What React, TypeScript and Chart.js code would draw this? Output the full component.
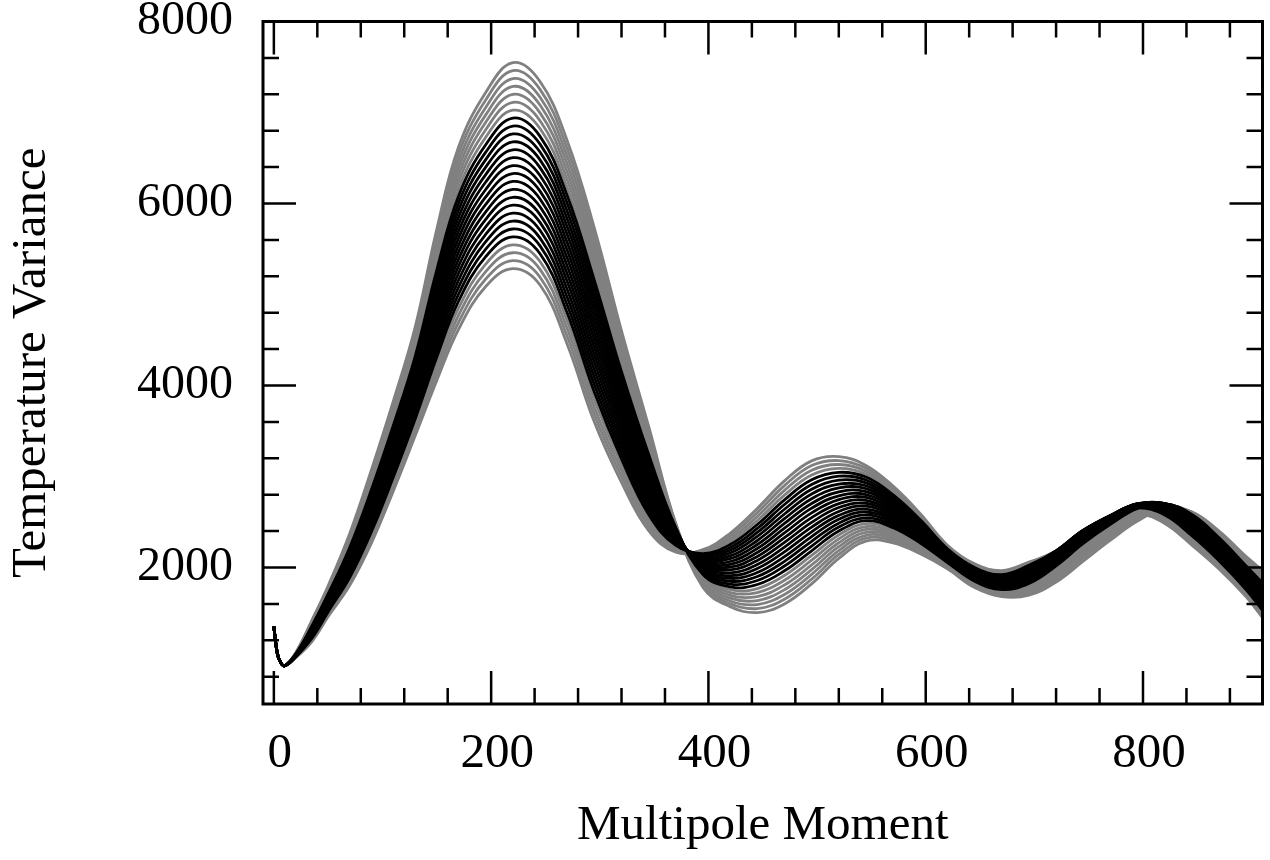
import { useEffect, useRef } from "react";
import { Chart, registerables } from "chart.js";

Chart.register(...registerables);

// ---- data ----
const multipoles = [0, 3, 6, 10, 20, 35, 50, 70, 90, 110, 130, 150, 170, 195, 220, 245, 270, 295, 320, 345, 370, 395, 420, 445, 470, 495, 520, 545, 570, 595, 620, 645, 670, 695, 720, 745, 770, 795, 820, 845, 870, 895, 910];

const curve00 = [1350, 1065, 960, 920, 1060, 1420, 1800, 2380, 3080, 3830, 4640, 5720, 6620, 7220, 7547, 7340, 6690, 5730, 4600, 3550, 2480, 1780, 1570, 1505, 1600, 1820, 2100, 2290, 2270, 2150, 1985, 1780, 1680, 1695, 1840, 2070, 2300, 2510, 2640, 2610, 2400, 2120, 1970];
const curve01 = [1350, 1065, 960, 920, 1058, 1411, 1787, 2358, 3049, 3792, 4594, 5656, 6543, 7138, 7460, 7254, 6604, 5648, 4536, 3506, 2475, 1802, 1601, 1549, 1652, 1872, 2143, 2322, 2294, 2167, 1995, 1790, 1691, 1715, 1869, 2103, 2330, 2535, 2653, 2609, 2391, 2106, 1950];
const curve02 = [1350, 1065, 960, 920, 1056, 1402, 1774, 2336, 3018, 3754, 4548, 5592, 6466, 7056, 7373, 7168, 6518, 5566, 4472, 3462, 2470, 1823, 1632, 1593, 1704, 1924, 2186, 2354, 2318, 2184, 2005, 1800, 1702, 1734, 1897, 2134, 2359, 2559, 2665, 2608, 2382, 2092, 1930];
const curve03 = [1350, 1065, 960, 920, 1054, 1393, 1761, 2314, 2987, 3716, 4502, 5528, 6389, 6974, 7286, 7082, 6432, 5484, 4408, 3418, 2464, 1844, 1663, 1637, 1756, 1976, 2229, 2386, 2342, 2201, 2015, 1810, 1713, 1753, 1924, 2163, 2385, 2580, 2675, 2605, 2372, 2077, 1910];
const curve04 = [1350, 1065, 960, 920, 1052, 1384, 1748, 2292, 2956, 3678, 4456, 5464, 6312, 6892, 7199, 6996, 6346, 5402, 4344, 3374, 2458, 1865, 1694, 1681, 1808, 2028, 2272, 2418, 2366, 2218, 2025, 1820, 1724, 1772, 1949, 2191, 2410, 2600, 2684, 2601, 2362, 2062, 1890];
const curve05 = [1350, 1065, 960, 920, 1050, 1375, 1735, 2270, 2925, 3640, 4410, 5400, 6235, 6810, 7112, 6910, 6260, 5320, 4280, 3330, 2451, 1885, 1725, 1725, 1860, 2080, 2315, 2450, 2390, 2235, 2035, 1830, 1735, 1790, 1973, 2217, 2433, 2618, 2691, 2596, 2351, 2047, 1870];
const curve06 = [1350, 1065, 960, 920, 1048, 1366, 1722, 2248, 2894, 3602, 4364, 5336, 6158, 6728, 7025, 6824, 6174, 5238, 4216, 3286, 2444, 1904, 1756, 1769, 1912, 2132, 2358, 2482, 2414, 2252, 2045, 1840, 1746, 1807, 1996, 2241, 2455, 2635, 2696, 2590, 2340, 2032, 1850];
const curve07 = [1350, 1065, 960, 920, 1046, 1357, 1709, 2226, 2863, 3564, 4318, 5272, 6081, 6646, 6938, 6738, 6088, 5156, 4152, 3242, 2435, 1923, 1787, 1813, 1964, 2184, 2401, 2514, 2438, 2269, 2055, 1850, 1757, 1824, 2018, 2264, 2474, 2649, 2700, 2583, 2327, 2017, 1830];
const curve08 = [1350, 1065, 960, 920, 1044, 1348, 1696, 2204, 2832, 3526, 4272, 5208, 6004, 6564, 6851, 6652, 6002, 5074, 4088, 3198, 2427, 1942, 1818, 1857, 2016, 2236, 2444, 2546, 2462, 2286, 2065, 1860, 1768, 1841, 2038, 2285, 2492, 2662, 2703, 2575, 2315, 2001, 1810];
const curve09 = [1350, 1065, 960, 920, 1042, 1339, 1683, 2182, 2801, 3488, 4226, 5144, 5927, 6482, 6764, 6566, 5916, 4992, 4024, 3154, 2417, 1960, 1849, 1901, 2068, 2288, 2487, 2578, 2486, 2303, 2075, 1870, 1779, 1857, 2057, 2305, 2508, 2673, 2704, 2565, 2301, 1985, 1790];
const curve10 = [1350, 1065, 960, 920, 1040, 1330, 1670, 2160, 2770, 3450, 4180, 5080, 5850, 6400, 6677, 6480, 5830, 4910, 3960, 3110, 2407, 1978, 1880, 1945, 2120, 2340, 2530, 2610, 2510, 2320, 2085, 1880, 1790, 1873, 2074, 2323, 2522, 2682, 2703, 2555, 2287, 1969, 1770];
const curve11 = [1350, 1065, 960, 920, 1038, 1321, 1657, 2138, 2739, 3412, 4134, 5016, 5773, 6318, 6590, 6394, 5744, 4828, 3896, 3066, 2397, 1995, 1911, 1989, 2172, 2392, 2573, 2642, 2534, 2337, 2095, 1890, 1801, 1888, 2090, 2339, 2534, 2689, 2701, 2544, 2273, 1953, 1750];
const curve12 = [1350, 1065, 960, 920, 1036, 1312, 1644, 2116, 2708, 3374, 4088, 4952, 5696, 6236, 6503, 6308, 5658, 4746, 3832, 3022, 2386, 2012, 1942, 2033, 2224, 2444, 2616, 2674, 2558, 2354, 2105, 1900, 1812, 1903, 2105, 2353, 2545, 2695, 2697, 2531, 2258, 1936, 1730];
const curve13 = [1350, 1065, 960, 920, 1034, 1303, 1631, 2094, 2677, 3336, 4042, 4888, 5619, 6154, 6416, 6222, 5572, 4664, 3768, 2978, 2374, 2028, 1973, 2077, 2276, 2496, 2659, 2706, 2582, 2371, 2115, 1910, 1823, 1917, 2119, 2366, 2554, 2699, 2692, 2518, 2242, 1919, 1710];
const curve14 = [1350, 1065, 960, 920, 1032, 1294, 1618, 2072, 2646, 3298, 3996, 4824, 5542, 6072, 6329, 6136, 5486, 4582, 3704, 2934, 2362, 2044, 2004, 2121, 2328, 2548, 2702, 2738, 2606, 2388, 2125, 1920, 1834, 1931, 2131, 2377, 2561, 2701, 2685, 2503, 2226, 1902, 1690];
const curve15 = [1350, 1065, 960, 920, 1030, 1285, 1605, 2050, 2615, 3260, 3950, 4760, 5465, 5990, 6242, 6050, 5400, 4500, 3640, 2890, 2349, 2059, 2035, 2165, 2380, 2600, 2745, 2770, 2630, 2405, 2135, 1930, 1845, 1944, 2142, 2387, 2566, 2701, 2677, 2488, 2209, 1885, 1670];
const curve16 = [1350, 1065, 960, 920, 1028, 1276, 1592, 2028, 2584, 3222, 3904, 4696, 5388, 5908, 6155, 5964, 5314, 4418, 3576, 2846, 2335, 2074, 2066, 2209, 2432, 2652, 2788, 2802, 2654, 2422, 2145, 1940, 1856, 1957, 2152, 2395, 2570, 2700, 2667, 2471, 2191, 1867, 1650];
const curve17 = [1350, 1065, 960, 920, 1026, 1267, 1579, 2006, 2553, 3184, 3858, 4632, 5311, 5826, 6068, 5878, 5228, 4336, 3512, 2802, 2321, 2088, 2097, 2253, 2484, 2704, 2831, 2834, 2678, 2439, 2155, 1950, 1867, 1969, 2161, 2401, 2572, 2697, 2656, 2453, 2173, 1849, 1630];
const curve18 = [1350, 1065, 960, 920, 1024, 1258, 1566, 1984, 2522, 3146, 3812, 4568, 5234, 5744, 5981, 5792, 5142, 4254, 3448, 2758, 2307, 2102, 2128, 2297, 2536, 2756, 2874, 2866, 2702, 2456, 2165, 1960, 1878, 1981, 2168, 2405, 2572, 2692, 2643, 2435, 2155, 1831, 1610];
const curve19 = [1350, 1065, 960, 920, 1022, 1249, 1553, 1962, 2491, 3108, 3766, 4504, 5157, 5662, 5894, 5706, 5056, 4172, 3384, 2714, 2291, 2115, 2159, 2341, 2588, 2808, 2917, 2898, 2726, 2473, 2175, 1970, 1889, 1992, 2174, 2408, 2570, 2685, 2628, 2415, 2135, 1813, 1590];
const curve20 = [1350, 1065, 960, 920, 1020, 1240, 1540, 1940, 2460, 3070, 3720, 4440, 5080, 5580, 5807, 5620, 4970, 4090, 3320, 2670, 2276, 2128, 2190, 2385, 2640, 2860, 2960, 2930, 2750, 2490, 2185, 1980, 1900, 2003, 2178, 2409, 2567, 2677, 2612, 2394, 2116, 1794, 1570];
const curve21 = [1350, 1065, 960, 920, 1018, 1231, 1527, 1918, 2429, 3032, 3674, 4376, 5003, 5498, 5720, 5534, 4884, 4008, 3256, 2626, 2259, 2141, 2221, 2429, 2692, 2912, 3003, 2962, 2774, 2507, 2195, 1990, 1911, 2014, 2181, 2409, 2561, 2666, 2595, 2372, 2095, 1775, 1550];
const curve22 = [1350, 1065, 960, 920, 1016, 1222, 1514, 1896, 2398, 2994, 3628, 4312, 4926, 5416, 5633, 5448, 4798, 3926, 3192, 2582, 2242, 2153, 2252, 2473, 2744, 2964, 3046, 2994, 2798, 2524, 2205, 2000, 1922, 2024, 2183, 2407, 2554, 2654, 2576, 2349, 2074, 1756, 1530];
const curve23 = [1350, 1065, 960, 920, 1014, 1213, 1501, 1874, 2367, 2956, 3582, 4248, 4849, 5334, 5546, 5362, 4712, 3844, 3128, 2538, 2224, 2164, 2283, 2517, 2796, 3016, 3089, 3026, 2822, 2541, 2215, 2010, 1933, 2033, 2184, 2403, 2545, 2640, 2555, 2325, 2052, 1737, 1510];
const curve24 = [1350, 1065, 960, 920, 1012, 1204, 1488, 1852, 2336, 2918, 3536, 4184, 4772, 5252, 5459, 5276, 4626, 3762, 3064, 2494, 2206, 2175, 2314, 2561, 2848, 3068, 3132, 3058, 2846, 2558, 2225, 2020, 1944, 2042, 2183, 2398, 2535, 2625, 2533, 2300, 2030, 1718, 1490];
const curve25 = [1350, 1065, 960, 920, 1010, 1195, 1475, 1830, 2305, 2880, 3490, 4120, 4695, 5170, 5372, 5190, 4540, 3680, 3000, 2450, 2187, 2186, 2345, 2605, 2900, 3120, 3175, 3090, 2870, 2575, 2235, 2030, 1955, 2051, 2181, 2391, 2522, 2607, 2509, 2273, 2007, 1698, 1470];
const curve26 = [1350, 1065, 960, 920, 1008, 1186, 1462, 1808, 2274, 2842, 3444, 4056, 4618, 5088, 5285, 5104, 4454, 3598, 2936, 2406, 2168, 2196, 2376, 2649, 2952, 3172, 3218, 3122, 2894, 2592, 2245, 2040, 1966, 2059, 2178, 2382, 2508, 2588, 2484, 2246, 1984, 1678, 1450];

const grayHighPeak = [curve00, curve01, curve02, curve03, curve04, curve05, curve06];
const blackMiddle = [curve07, curve08, curve09, curve10, curve11, curve12, curve13, curve14, curve15, curve16, curve17, curve18, curve19, curve20, curve21, curve22];
const grayLowPeak = [curve23, curve24, curve25, curve26];

const xLabelTicks = [0, 200, 400, 600, 800];
const xTickMarks = [0, 40, 80, 120, 160, 200, 240, 280, 320, 360, 400, 440, 480, 520, 560, 600, 640, 680, 720, 760, 800, 840, 880];
const yLabelTicks = [2000, 4000, 6000, 8000];
const yTickMarks = [800, 1200, 1600, 2000, 2400, 2800, 3200, 3600, 4000, 4400, 4800, 5200, 5600, 6000, 6400, 6800, 7200, 7600, 8000];

const xTitle = "Multipole Moment";
const yTitle = "Temperature Variance";

// ---- style ----
const FONT = "'Liberation Serif', 'Times New Roman', Times, serif";
const GRAY = "#808080";
const BLACK = "#000000";
const LINE_W = 2.8;
const MAJOR_LEN = 33;
const MINOR_LEN = 16;

const frameAndTicks = {
  id: "frameAndTicks",
  afterDatasetsDraw(chart: any) {
    const { ctx, chartArea, scales } = chart;
    const { left, right, top, bottom } = chartArea;
    const xs = scales.x;
    const ys = scales.y;
    ctx.save();
    ctx.strokeStyle = "#000";
    ctx.lineWidth = 2.5;
    ctx.lineCap = "butt";
    ctx.beginPath();
    for (const v of xTickMarks) {
      const px = xs.getPixelForValue(v);
      const len = xLabelTicks.includes(v) ? MAJOR_LEN : MINOR_LEN;
      ctx.moveTo(px, bottom);
      ctx.lineTo(px, bottom - len);
      ctx.moveTo(px, top);
      ctx.lineTo(px, top + len);
    }
    for (const v of yTickMarks) {
      const py = ys.getPixelForValue(v);
      const len = yLabelTicks.includes(v) ? MAJOR_LEN : MINOR_LEN;
      ctx.moveTo(left, py);
      ctx.lineTo(left + len, py);
      ctx.moveTo(right, py);
      ctx.lineTo(right - len, py);
    }
    ctx.stroke();
    ctx.lineWidth = 3;
    ctx.strokeRect(left, top, right - left, bottom - top);
    ctx.restore();
  },
};

function makeDataset(values: number[], color: string, order: number) {
  return {
    data: multipoles.map((l, i) => ({ x: l, y: values[i] })),
    borderColor: color,
    backgroundColor: color,
    borderWidth: LINE_W,
    pointRadius: 0,
    fill: false,
    tension: 0.4,
    order,
  };
}

export default function App() {
  const canvasRef = useRef<HTMLCanvasElement | null>(null);

  useEffect(() => {
    document.body.style.margin = "0";
    document.body.style.overflow = "hidden";
    const canvas = canvasRef.current;
    if (!canvas) return;

    const datasets = [
      ...blackMiddle.map((c) => makeDataset(c, BLACK, 0)),
      ...grayHighPeak.map((c) => makeDataset(c, GRAY, 1)),
      ...grayLowPeak.map((c) => makeDataset(c, GRAY, 1)),
    ];

    const chart = new Chart(canvas, {
      type: "line",
      data: { datasets } as any,
      options: {
        animation: false,
        responsive: false,
        devicePixelRatio: 1,
        layout: { padding: { top: 21.5, right: 7.5, left: 0, bottom: 0 } },
        plugins: { legend: { display: false }, tooltip: { enabled: false } },
        scales: {
          x: {
            type: "linear",
            min: -10,
            max: 910,
            afterBuildTicks: (s: any) => {
              s.ticks = xLabelTicks.map((v) => ({ value: v }));
            },
            afterFit: (s: any) => {
              s.height = 156;
            },
            grid: { display: false, drawTicks: false },
            border: { display: false },
            ticks: {
              color: "#000",
              padding: 21,
              labelOffset: 6,
              autoSkip: false,
              maxRotation: 0,
              font: { family: FONT, size: 49 },
              callback: (v: any) => String(v),
            },
            title: {
              display: true,
              text: xTitle,
              color: "#000",
              font: { family: FONT, size: 49 },
              padding: { top: 0, bottom: 4 },
            },
          },
          y: {
            type: "linear",
            min: 500,
            max: 8000,
            afterBuildTicks: (s: any) => {
              s.ticks = yLabelTicks.map((v) => ({ value: v }));
            },
            afterFit: (s: any) => {
              s.width = 263;
            },
            grid: {
              display: true,
              drawOnChartArea: false,
              drawTicks: true,
              tickLength: 30,
              tickColor: "rgba(0,0,0,0)",
            },
            border: { display: false },
            ticks: {
              color: "#000",
              padding: 0,
              autoSkip: false,
              font: { family: FONT, size: 48, lineHeight: 0.8 },
              callback: (v: any) => String(v),
            },
            title: {
              display: true,
              text: yTitle,
              color: "#000",
              font: { family: FONT, size: 49 },
              padding: { top: 3, bottom: 0 },
            },
          },
        },
      } as any,
      plugins: [frameAndTicks],
    });

    return () => chart.destroy();
  }, []);

  return (
    <div style={{ width: 1270, height: 860, background: "#fff" }}>
      <canvas ref={canvasRef} width={1270} height={860} style={{ display: "block", width: 1270, height: 860 }} />
    </div>
  );
}
